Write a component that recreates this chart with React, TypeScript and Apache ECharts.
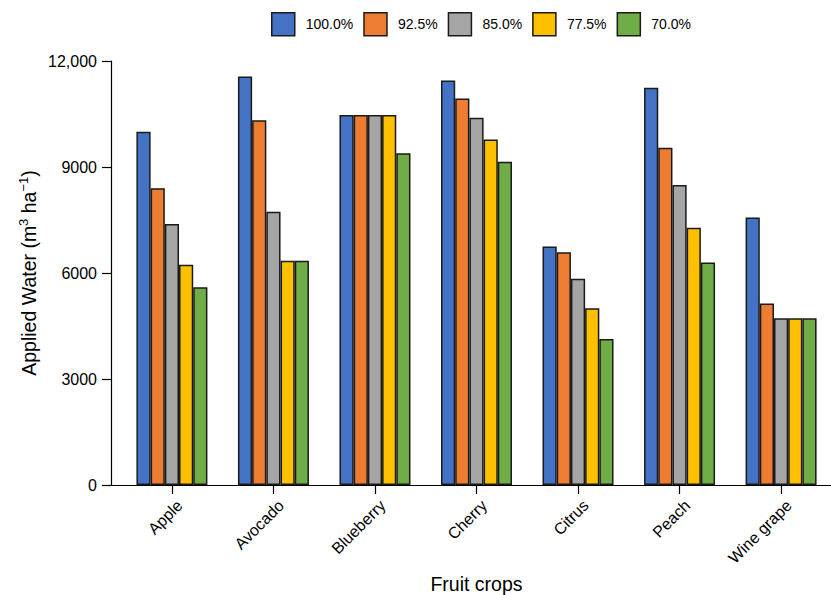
import React, { useEffect, useRef } from "react";
import * as echarts from "echarts";

// Fruit crops on the horizontal axis
const crops = ["Apple", "Avocado", "Blueberry", "Cherry", "Citrus", "Peach", "Wine grape"];

// Irrigation levels (share of full crop water requirement)
const levels = ["100.0%", "92.5%", "85.0%", "77.5%", "70.0%"];

// Applied water, m3 per ha, per crop at each irrigation level
const water100 = [10000, 11560, 10470, 11450, 6750, 11240, 7570];
const water925 = [8400, 10320, 10470, 10940, 6590, 9545, 5140];
const water850 = [7390, 7730, 10470, 10395, 5840, 8490, 4720];
const water775 = [6230, 6345, 10470, 9780, 5000, 7280, 4720];
const water700 = [5600, 6345, 9390, 9150, 4130, 6295, 4720];

const yTicks = [0, 3000, 6000, 9000, 12000];

const seriesValues = [water100, water925, water850, water775, water700];
const colors = ["#4472C4", "#ED7D31", "#A5A5A5", "#FFC000", "#70AD47"];

export default function App() {
  const ref = useRef<HTMLDivElement>(null);

  useEffect(() => {
    if (!ref.current) return;
    const chart = echarts.init(ref.current, null, { renderer: "svg" });
    const positions = crops.map((_, i) => i + 1);
    const font = "'Liberation Sans', Arial, Helvetica, sans-serif";

    chart.setOption({
      animation: false,
      backgroundColor: "#ffffff",
      textStyle: { fontFamily: font, color: "#000" },
      legend: {
        data: levels,
        left: 271,
        top: 12,
        padding: 0,
        icon: "rect",
        itemWidth: 23,
        itemHeight: 23,
        itemGap: 10,
        itemStyle: { borderColor: "#1a1a1a", borderWidth: 1.5 },
        textStyle: { fontSize: 14, color: "#000", padding: [0, 0, 0, 6], fontFamily: font },
      },
      grid: { left: 111, right: -11, top: 61, bottom: 110, outerBoundsMode: "none" },
      xAxis: {
        type: "value",
        min: 0.4,
        max: 7.6,
        name: "Fruit crops",
        nameLocation: "middle",
        nameGap: 89,
        nameMoveOverlap: false,
        nameTextStyle: { fontSize: 19.5, color: "#000", fontFamily: font },
        splitLine: { show: false },
        axisLine: { lineStyle: { color: "#000", width: 1.2 } },
        axisTick: {
          customValues: positions,
          length: 9,
          lineStyle: { color: "#000", width: 1.2 },
        },
        axisLabel: {
          customValues: positions,
          rotate: 45,
          margin: 10,
          align: "right",
          verticalAlign: "top",
          lineHeight: 22,
          fontSize: 16,
          color: "#000",
          fontFamily: font,
          formatter: (v: number) => crops[Math.round(v) - 1] ?? "",
        },
      },
      yAxis: {
        type: "value",
        min: 0,
        max: 12000,
        interval: 3000,
        name: "{n|Applied Water (m}{s|3}{n| ha}{s|\u22121}{n|)}",
        nameLocation: "middle",
        nameRotate: 90,
        nameGap: 70,
        nameMoveOverlap: false,
        nameTextStyle: {
          rich: {
            n: { fontSize: 19.5, lineHeight: 24, color: "#000", fontFamily: font },
            s: { fontSize: 13, lineHeight: 13, verticalAlign: "top", color: "#000", fontFamily: font },
          },
        },
        splitLine: { show: false },
        axisLine: { show: true, lineStyle: { color: "#000", width: 1.2 } },
        axisTick: { show: true, length: 9, lineStyle: { color: "#000", width: 1.2 } },
        axisLabel: {
          margin: 14,
          fontSize: 16,
          color: "#000",
          fontFamily: font,
          customValues: yTicks,
          formatter: (v: number) => (v >= 10000 ? v.toLocaleString("en-US") : String(v)),
        },
      },
      series: levels.map((name, k) => ({
        name,
        type: "bar",
        barWidth: 14.2,
        barGap: "0%",
        itemStyle: { color: colors[k], borderColor: "#1a1a1a", borderWidth: 1.5 },
        data: seriesValues[k].map((v, i) => [positions[i], v]),
      })),
    });

    return () => chart.dispose();
  }, []);

  return <div ref={ref} style={{ width: 831, height: 595, position: "absolute", left: 0, top: 0 }} />;
}
